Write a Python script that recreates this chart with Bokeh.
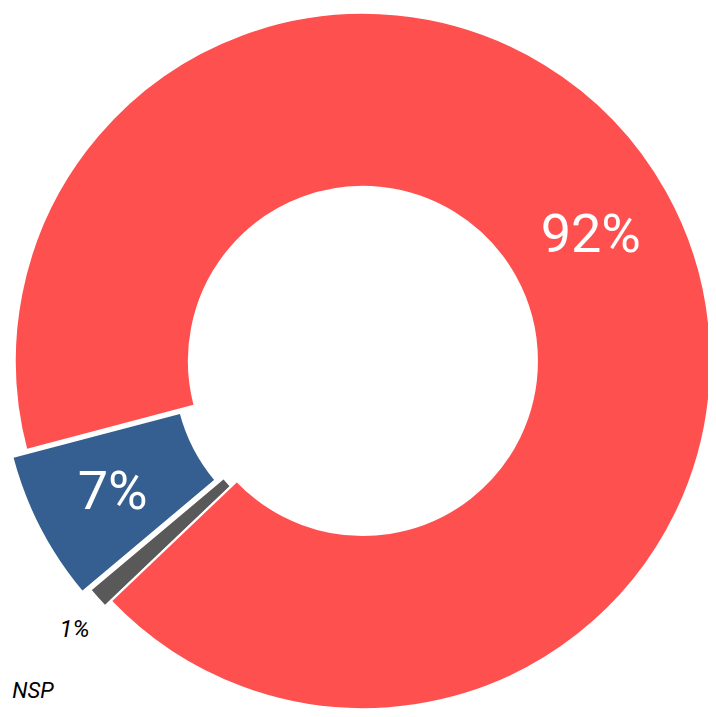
import numpy as np
from bokeh.plotting import figure
from bokeh.models import ColumnDataSource, Range1d
from bokeh.embed import file_html
from bokeh.resources import INLINE
from bokeh.core.properties import value

# Data (drawn counter-clockwise from the start angle)
categories = ["Non", "NSP", "Oui"]
values = [7, 1, 92]
labels = ["7%", "1%", "92%"]
colors = ["#365F91", "#595959", "#FF5050"]

# Styling / geometry (data units = reference pixels)
W, H = 708, 709
XR, YR = 716, 717
cx, cy = 366.5, 352.5
r_out, r_in = 352, 176
start_deg = 194.8
explode = [16, 8, 0]
label_radius = [269, 390, 264]
label_dx = [0, 5, 0]
label_dy = [0, -6, 0]
label_colors = ["white", "black", "white"]
label_sizes = ["54px", "24px", "54px"]
label_styles = ["normal", "italic", "normal"]

vals = np.array(values, dtype=float)
frac = vals / vals.sum()
ends = np.radians(start_deg) + np.cumsum(frac) * 2 * np.pi
starts = ends - frac * 2 * np.pi
mids = (starts + ends) / 2
ex = np.array(explode, dtype=float)
xs = cx + ex * np.cos(mids)
ys = cy + ex * np.sin(mids)

src = ColumnDataSource(dict(x=xs, y=ys, start=starts, end=ends, color=colors, cat=categories))

p = figure(width=W, height=H, output_backend="svg", toolbar_location=None,
           x_axis_type=None, y_axis_type=None,
           x_range=Range1d(0, XR), y_range=Range1d(0, YR), min_border=0)
p.outline_line_color = None
p.grid.visible = False
p.background_fill_color = "white"
p.border_fill_color = "white"

p.annular_wedge(x="x", y="y", inner_radius=r_in, outer_radius=r_out,
                start_angle="start", end_angle="end", fill_color="color",
                line_color="white", line_width=2, source=src)

lr = np.array(label_radius, dtype=float)
lx = xs + lr * np.cos(mids) + np.array(label_dx)
ly = ys + lr * np.sin(mids) + np.array(label_dy)
for i in range(len(values)):
    p.text(x=[lx[i]], y=[ly[i]], text=[labels[i]], text_align="center",
           text_baseline="middle", text_color=label_colors[i],
           text_font=value("Roboto"), text_font_size=label_sizes[i],
           text_font_style=label_styles[i])

p.text(x=[12], y=[7], text=["NSP"], text_align="left", text_baseline="bottom",
       text_color="black", text_font=value("Roboto"), text_font_size="22px",
       text_font_style="italic")

open("out.html", "w").write(file_html(p, INLINE))
